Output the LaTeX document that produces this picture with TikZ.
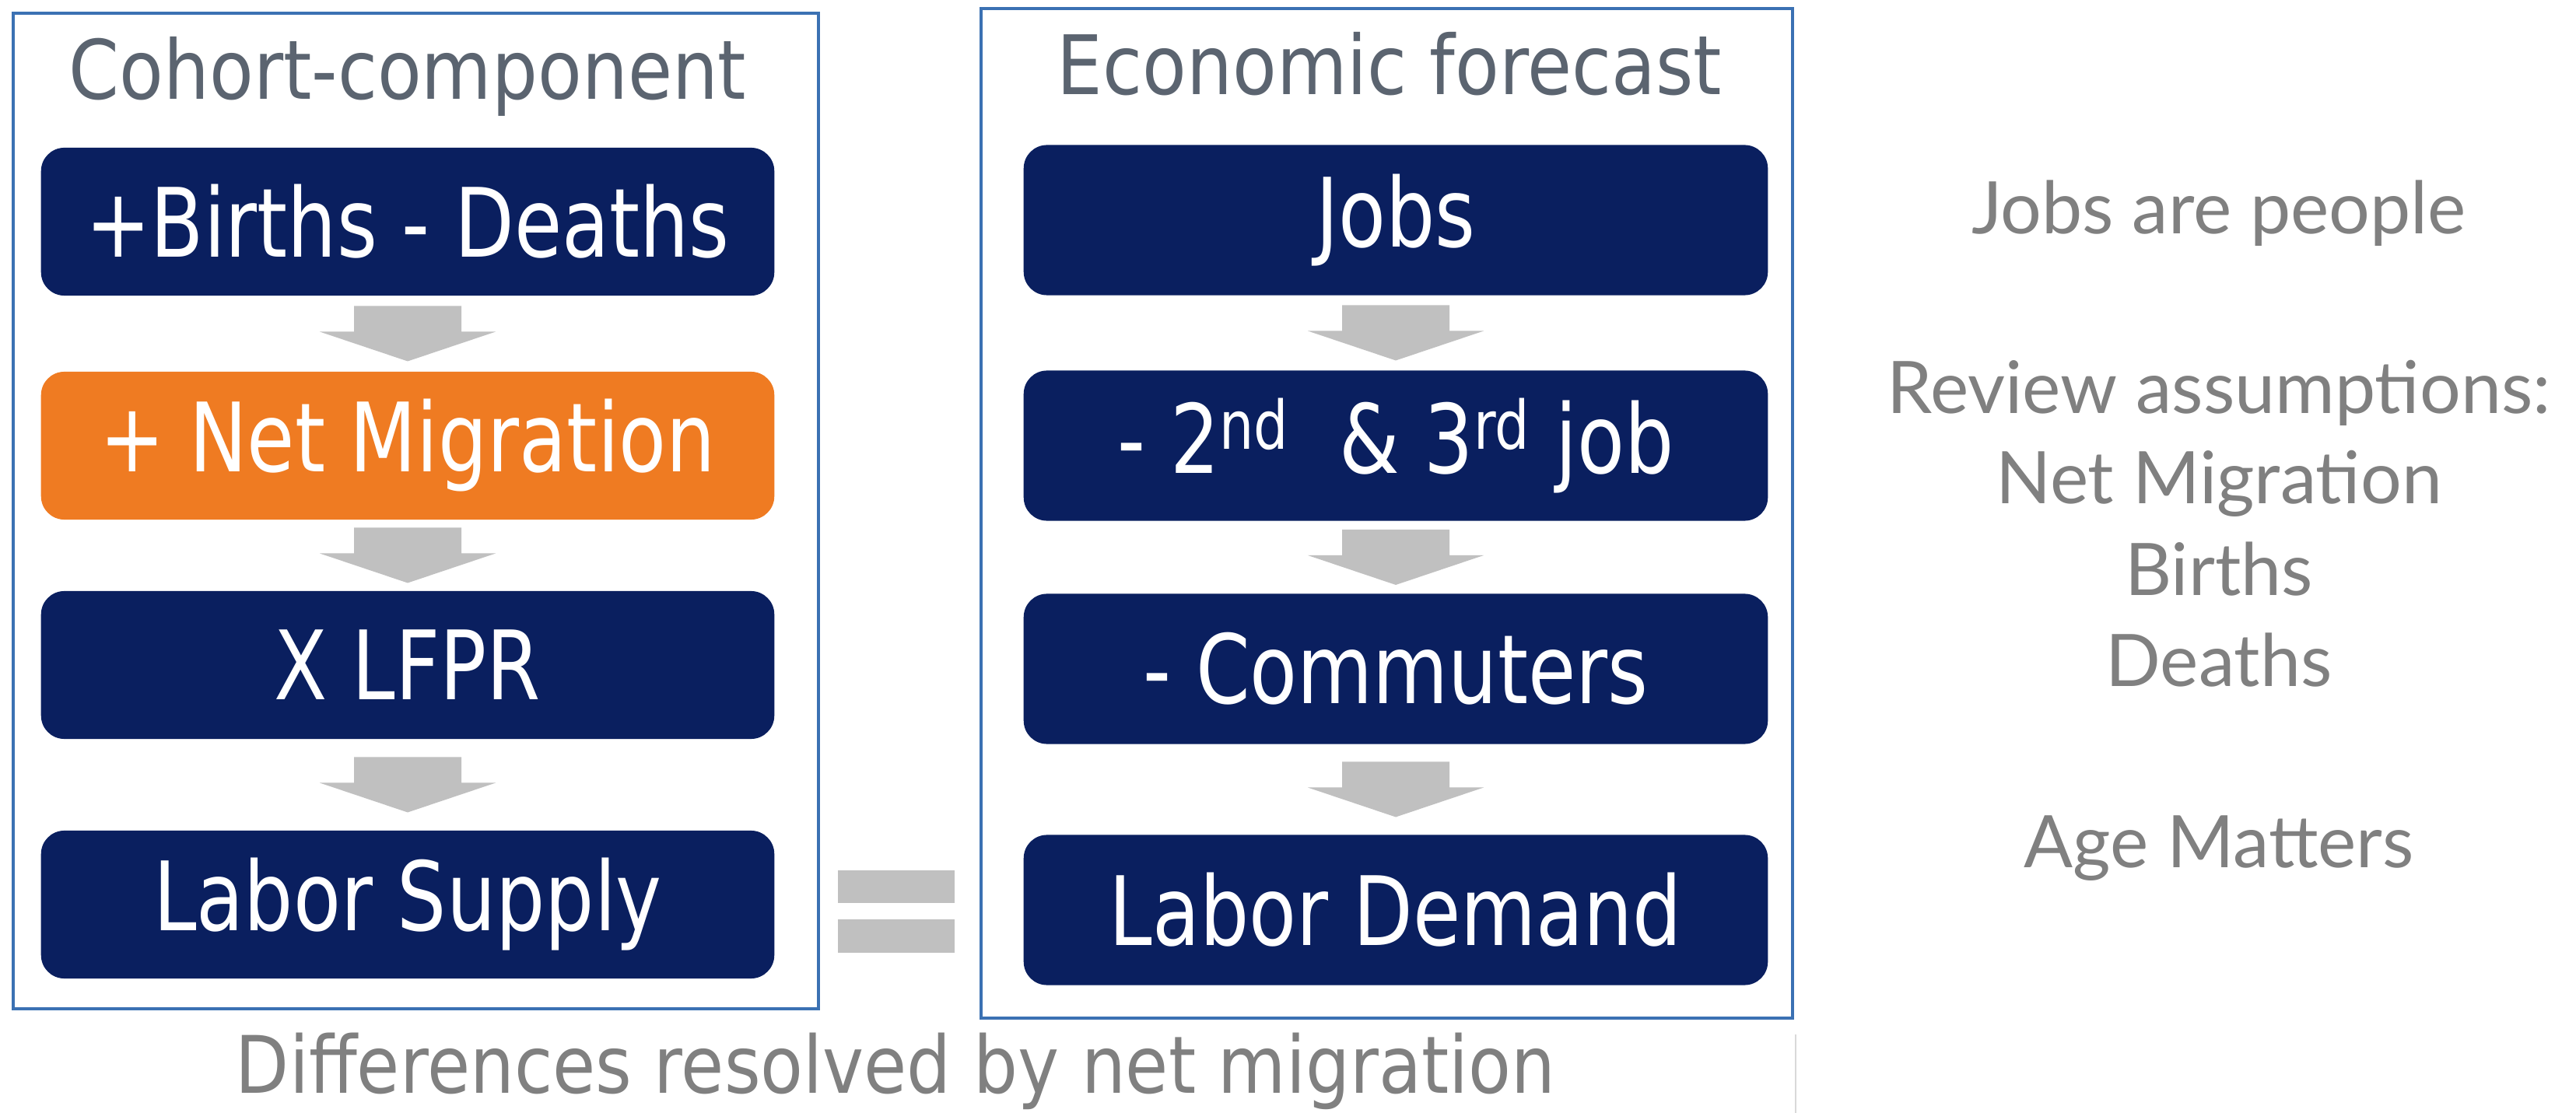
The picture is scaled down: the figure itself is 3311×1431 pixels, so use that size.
\documentclass[tikz,border=0pt]{standalone}
\usepackage{fontspec}
\setmainfont{DejaVu Sans}
\newfontfamily\boxfont[FakeStretch=0.81]{DejaVu Sans}
\newfontfamily\titlefont[FakeStretch=0.88]{DejaVu Sans}
\newfontfamily\sidefont{Lato}
\usetikzlibrary{calc}
\definecolor{navy}{HTML}{0A1F5F}
\definecolor{orangebox}{HTML}{EF7B22}
\definecolor{arrowgray}{HTML}{C0C0C0}
\definecolor{framecol}{HTML}{3B71B3}
\definecolor{titlegray}{HTML}{5B6470}
\definecolor{textgray}{HTML}{808080}
\newcommand\flowarrow[2]{%
  \fill[arrowgray] ($($(#1.south)!0.5!(#2.north)$)+(0,35.5)$) -- ++(-113,-38) -- ++(44,0) -- ++(0,-33) -- ++(138,0) -- ++(0,33) -- ++(44,0) -- cycle;}
\begin{document}
\begin{tikzpicture}[x=0.01cm,y=-0.01cm,
  frame/.style={draw=framecol, line width=1.2pt},
  stepbox/.style={fill=navy, rounded corners=0.3cm, text=white, inner sep=0pt,
    font=\boxfont\fontsize{35}{39}\selectfont},
  leftbox/.style={stepbox, minimum width=9.42cm, minimum height=1.9cm},
  rightbox/.style={stepbox, minimum width=9.56cm, minimum height=1.93cm},
  title/.style={anchor=base, text=titlegray, font=\titlefont\fontsize{30}{34}\selectfont},
  sidetext/.style={anchor=base, text=textgray, font=\sidefont\fontsize{26.5}{30}\selectfont},
]
\useasboundingbox (0,0) rectangle (3311,1431);
\fill[white] (0,0) rectangle (3311,1431);
% frames
\draw[frame] (17,17) rectangle (1052,1297);
\draw[frame] (1261,11) rectangle (2304,1309);
% titles
\node[title] (tl) at (524,128) {Cohort-component};
\node[title] (tr) at (1786,122) {Economic forecast};
% left column
\node[leftbox] (l1) at (524,285) {+Births - Deaths};
\node[leftbox, fill=orangebox] (l2) at (524,573) {+ Net Migration};
\node[leftbox] (l3) at (524,855) {X LFPR};
\node[leftbox] (l4) at (524,1163) {Labor Supply};
% right column
\node[rightbox] (r1) at (1794,283) {Jobs};
\node[rightbox] (r2) at (1794,573) {- 2\textsuperscript{nd}\ \ \& 3\textsuperscript{rd} job};
\node[rightbox] (r3) at (1794,860) {- Commuters};
\node[rightbox] (r4) at (1794,1170) {Labor Demand};
% arrows
\flowarrow{l1}{l2}
\flowarrow{l2}{l3}
\flowarrow{l3}{l4}
\flowarrow{r1}{r2}
\flowarrow{r2}{r3}
\flowarrow{r3}{r4}
% equals sign
\fill[arrowgray] (1077,1119) rectangle (1227,1161);
\fill[arrowgray] (1077,1182) rectangle (1227,1225);
% bottom text
\node[anchor=base, text=textgray, font=\titlefont\fontsize{29}{33}\selectfont] (bottom) at (1151,1405) {Differences resolved by net migration};
\draw[black!15, line width=0.6pt] (2308,1330) -- (2308,1431);
% side notes
\node[sidetext] (s1) at (2852,301) {Jobs are people};
\node[sidetext] (s2) at (2852,532) {Review assumptions:};
\node[sidetext] (s3) at (2852,648) {Net Migration};
\node[sidetext] (s4) at (2852,766) {Births};
\node[sidetext] (s5) at (2852,883) {Deaths};
\node[sidetext] (s6) at (2852,1115) {Age Matters};
\end{tikzpicture}
\end{document}
